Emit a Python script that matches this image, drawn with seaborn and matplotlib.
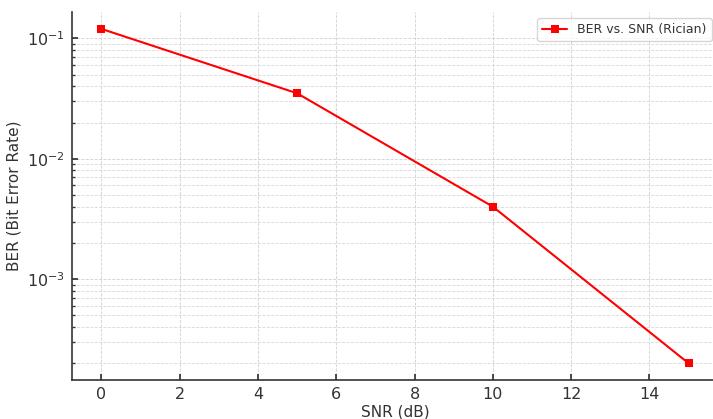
import matplotlib
matplotlib.use("Agg")

import pandas as pd
import matplotlib.pyplot as plt
import seaborn as sns


snr_db = [0, 5, 10, 15]
ber = [0.12, 0.035, 0.004, 0.0002]
series_label = "BER vs. SNR (Rician)"


def build_chart() -> None:
    df = pd.DataFrame({"SNR (dB)": snr_db, "BER": ber})

    sns.set_theme(style="ticks")
    plt.rcParams["font.family"] = ["DejaVu Sans"]

    fig = plt.figure(figsize=(7.13, 4.19), dpi=100)
    ax = fig.add_axes([0.101, 0.093, 0.906, 0.878])

    sns.lineplot(
        data=df, x="SNR (dB)", y="BER", ax=ax,
        color="red", marker="s", markersize=6, markeredgewidth=0,
        linewidth=1.5, label=series_label,
    )
    ax.set_yscale("log")
    ax.margins(x=0.05, y=0.05)

    ax.grid(True, which="major", linestyle="--", linewidth=0.6, color="#d0d0d0")
    ax.grid(True, which="minor", axis="y", linestyle="--", linewidth=0.6, color="#d8d8d8")

    ax.set_xticks([0, 2, 4, 6, 8, 10, 12, 14])
    ax.set_xlabel("SNR (dB)", fontsize=11, color="#333333", labelpad=2)
    ax.set_ylabel("BER (Bit Error Rate)", fontsize=11, color="#333333", labelpad=4)
    ax.tick_params(axis="both", which="major", labelsize=11.5, colors="#333333",
                   direction="in", length=4, pad=5)
    ax.tick_params(axis="y", which="minor", direction="in", length=2, colors="#333333")

    for side in ["top", "right"]:
        ax.spines[side].set_visible(False)
    for side in ["left", "bottom"]:
        ax.spines[side].set_color("#333333")
        ax.spines[side].set_linewidth(1.2)

    leg = ax.legend(loc="upper right", fontsize=9, frameon=True, fancybox=True)
    leg.get_frame().set_edgecolor("#cccccc")
    for txt in leg.get_texts():
        txt.set_color("#333333")

    fig.savefig("out.png", dpi=100)
    plt.close(fig)


if __name__ == "__main__":
    build_chart()
